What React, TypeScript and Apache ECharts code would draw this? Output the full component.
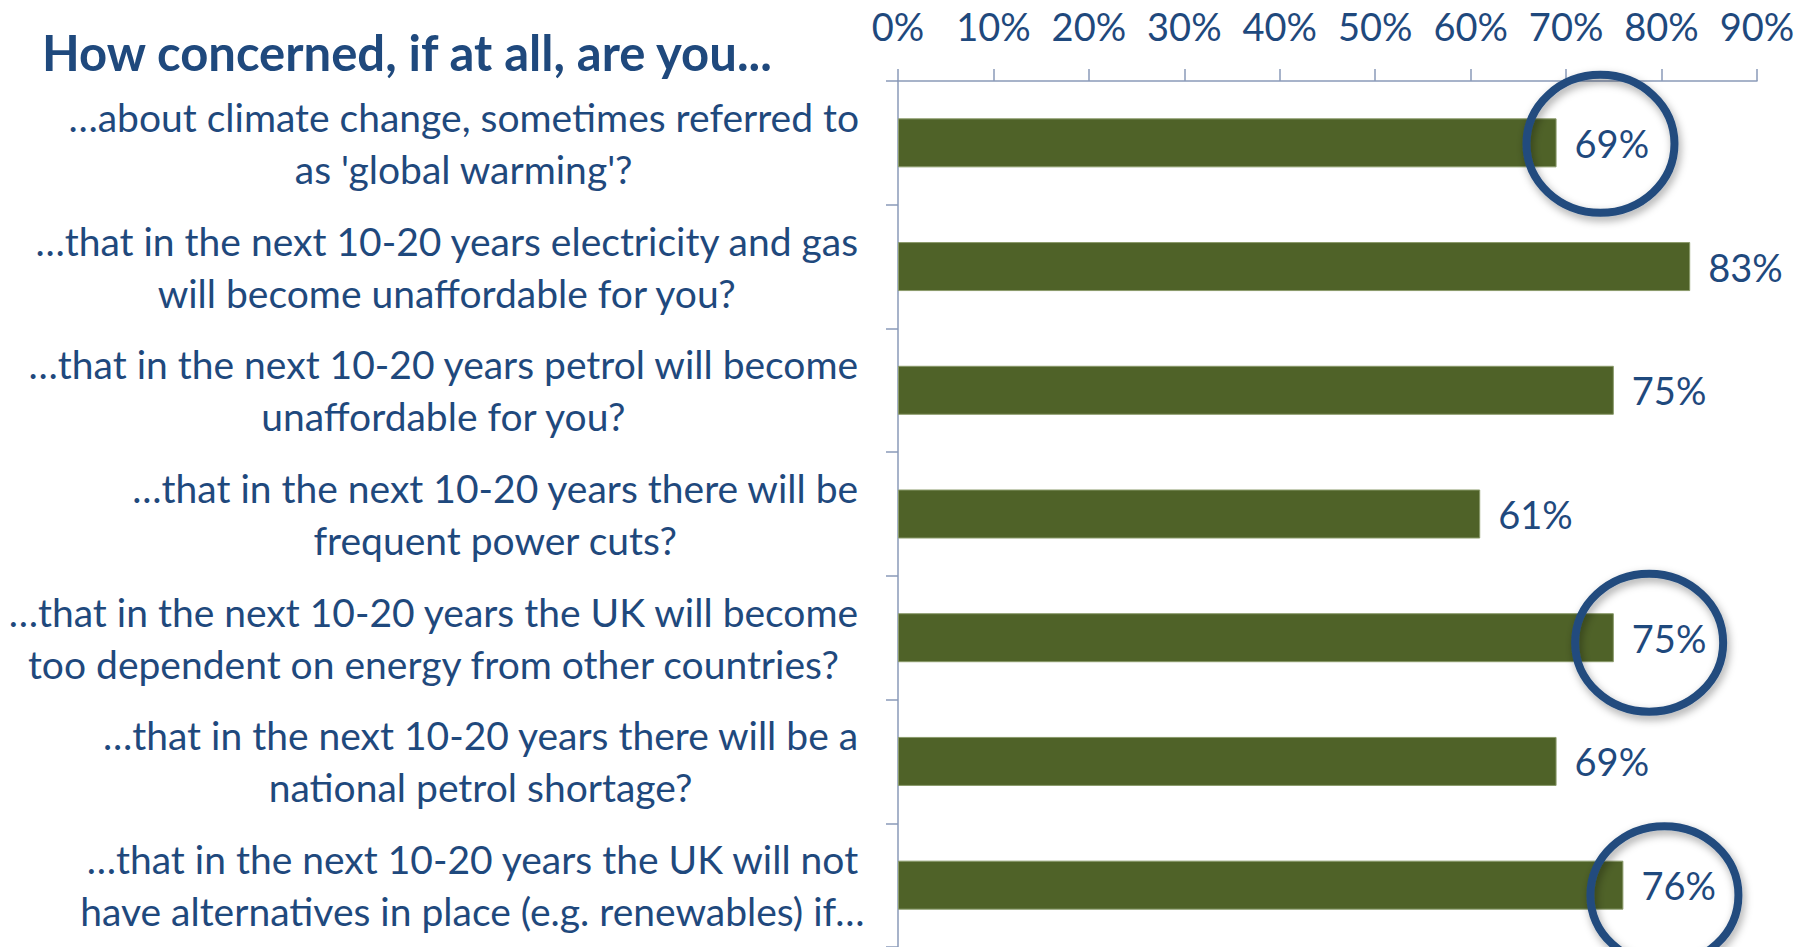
import React, { useEffect, useRef } from "react";
import * as echarts from "echarts";

const TITLE = "How concerned, if at all, are you...";
const categories = [
  "…about climate change, sometimes referred to\nas 'global warming'?",
  "…that in the next 10-20 years electricity and gas\nwill become unaffordable for you?",
  "…that in the next 10-20 years petrol will become\nunaffordable for you?",
  "…that in the next 10-20 years there will be\nfrequent power cuts?",
  "…that in the next 10-20 years the UK will become\ntoo dependent on energy from other countries?",
  "…that in the next 10-20 years there will be a\nnational petrol shortage?",
  "…that in the next 10-20 years the UK will not\nhave alternatives in place (e.g. renewables) if…",
];
const values = [69, 83, 75, 61, 75, 69, 76];
// highlight circles: category index and circle centre on the value axis
const circledIndices = [0, 4, 6];
const circleCenters = [73.6, 78.7, 80.3];
const circleDy = [1, 5, 10];
const AXIS_MIN = 0;
const AXIS_MAX = 90;
const AXIS_INTERVAL = 10;

const FONT = "Lato";
const TEXT_COLOR = "#1F497D";
const CIRCLE_COLOR = "#224B7E";
const BAR_COLOR = "#4F6228";
const AXIS_COLOR = "#8A9AB8";

export default function App() {
  const ref = useRef<HTMLDivElement>(null);
  useEffect(() => {
    document.body.style.margin = "0";
    if (!ref.current) return;
    const chart = echarts.init(ref.current, undefined, { renderer: "svg" });
    const option = {
      animation: false,
      backgroundColor: "#ffffff",
      title: {
        text: TITLE,
        left: 37,
        top: 22,
        textStyle: {
          fontFamily: FONT,
          fontWeight: "bold",
          fontSize: 49,
          color: TEXT_COLOR,
        },
      },
      grid: {
        left: 898,
        right: 51,
        top: 81,
        bottom: 0,
        containLabel: false,
        outerBoundsMode: "none",
      },
      xAxis: {
        type: "value",
        position: "top",
        min: AXIS_MIN,
        max: AXIS_MAX,
        interval: AXIS_INTERVAL,
        axisLine: { show: true, lineStyle: { color: AXIS_COLOR, width: 1.5 } },
        axisTick: { show: true, length: 12, lineStyle: { color: AXIS_COLOR, width: 1.5 } },
        splitLine: { show: false },
        axisLabel: {
          formatter: "{value}%",
          margin: 36,
          fontFamily: FONT,
          fontSize: 38,
          color: TEXT_COLOR,
        },
      },
      yAxis: {
        type: "category",
        inverse: true,
        data: categories,
        axisLine: { show: true, lineStyle: { color: AXIS_COLOR, width: 1.5 } },
        axisTick: { show: true, length: 12, lineStyle: { color: AXIS_COLOR, width: 1.5 } },
        axisLabel: {
          margin: 39,
          align: "right",
          formatter: (val: string, idx: number) => {
            const lines = val.split("\n");
            return lines
              .map((l, i) =>
                idx === categories.length - 1 && i === lines.length - 1
                  ? `{n|${l}}`
                  : `{c|${l}}`
              )
              .join("\n");
          },
          rich: {
            c: {
              align: "center",
              fontFamily: FONT,
              fontSize: 39,
              lineHeight: 52,
              color: TEXT_COLOR,
            },
            n: {
              align: "center",
              width: 500,
              fontFamily: FONT,
              fontSize: 39,
              lineHeight: 52,
              color: TEXT_COLOR,
            },
          },
        },
      },
      series: [
        {
          type: "bar",
          data: values,
          barWidth: 49,
          itemStyle: { color: BAR_COLOR, borderColor: "#8A9A6A", borderWidth: 1 },
          label: {
            show: true,
            position: "right",
            distance: 18,
            formatter: "{c}%",
            fontFamily: FONT,
            fontSize: 38,
            color: TEXT_COLOR,
          },
        },
        {
          type: "custom",
          z: 10,
          silent: true,
          data: circledIndices.map((i, k) => [circleCenters[k], i, circleDy[k]]),
          renderItem: (params: any, api: any) => {
            const c = api.coord([api.value(0), api.value(1)]);
            return {
              type: "ellipse",
              shape: { cx: c[0], cy: c[1] + api.value(2), rx: 74, ry: 69 },
              style: {
                fill: "none",
                stroke: CIRCLE_COLOR,
                lineWidth: 8,
                shadowBlur: 8,
                shadowColor: "rgba(0,0,0,0.35)",
                shadowOffsetX: 2,
                shadowOffsetY: 4,
              },
            };
          },
        },
      ],
    };
    chart.setOption(option as any);
    return () => chart.dispose();
  }, []);
  return <div ref={ref} style={{ width: 1808, height: 947 }} />;
}
